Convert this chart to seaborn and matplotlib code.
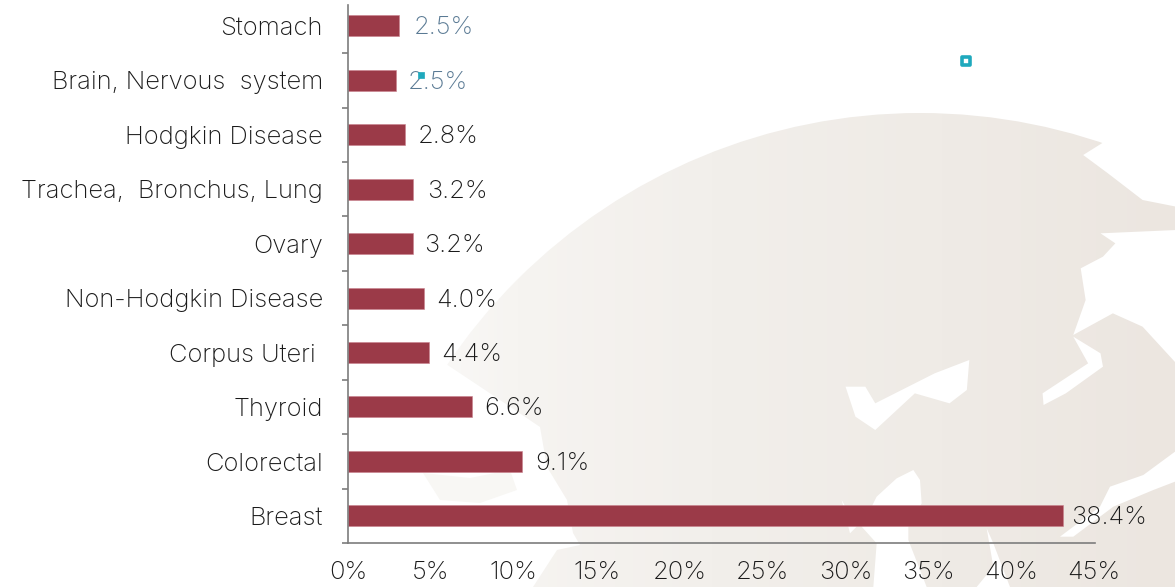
import numpy as np
import pandas as pd
import matplotlib
matplotlib.use("Agg")
import matplotlib.pyplot as plt
from matplotlib.patches import Circle, Polygon
from matplotlib.colors import LinearSegmentedColormap
import seaborn as sns

categories = ["Stomach", "Brain, Nervous  system", "Hodgkin Disease",
              "Trachea,  Bronchus, Lung", "Ovary", "Non-Hodgkin Disease",
              "Corpus Uteri ", "Thyroid", "Colorectal", "Breast"]
bar_values = [3.08, 2.90, 3.44, 3.92, 3.89, 4.58, 4.89, 7.48, 10.49, 43.1]
value_labels = ["2.5%", "2.5%", "2.8%", "3.2%", "3.2%", "4.0%", "4.4%", "6.6%", "9.1%", "38.4%"]
x_ticks = [0, 5, 10, 15, 20, 25, 30, 35, 40, 45]

W, H = 1175, 587
sns.set_theme(style="white")
plt.rcParams["font.family"] = ["Inter", "DejaVu Sans"]
FS = 18.4
WEIGHT = "light"
TEXT = "#1a1a1a"
fig = plt.figure(figsize=(W / 100, H / 100), dpi=100, facecolor="white")


def zoomed(pts):
    return [(400 + x / 2.02, 100 + y / 3) for x, y in pts]


def zoom_lr(pts):
    return [(780 + x / 3, 400 + y / 3) for x, y in pts]


# background globe, in pixel coordinates
bg = fig.add_axes([0, 0, 1, 1], zorder=0)
bg.axis("off")
cmap = LinearSegmentedColormap.from_list(
    "g", [(0, "#fbfaf9"), (0.15, "#f6f4f1"), (0.4, "#f2efeb"), (0.7, "#efebe6"), (1, "#ece6e0")])
grad = bg.imshow(np.linspace(0, 1, 256)[None, :], extent=(400, 1175, 587, 100),
                 cmap=cmap, aspect="auto", zorder=1)
grad.set_clip_path(Circle((920, 683), 570, transform=bg.transData))
bg.set_xlim(0, W)
bg.set_ylim(H, 0)
seas = zoomed([(1380, 165), (1430, 220), (1500, 300), (1568, 320), (1568, 100), (1450, 100)]), \
    zoomed([(1568, 390), (1415, 400), (1445, 430), (1420, 470), (1375, 505), (1385, 600),
            (1360, 705), (1440, 640), (1500, 680), (1568, 790)]), \
    zoomed([(1360, 710), (1415, 760), (1420, 800), (1345, 880), (1300, 915), (1298, 880), (1390, 790)]), \
    zoomed([(900, 860), (940, 860), (960, 910), (1080, 820), (1150, 780), (1145, 870),
            (1110, 910), (1040, 880), (960, 990), (920, 950)]), \
    zoom_lr([(1185, 155), (1090, 225), (990, 260), (960, 320), (840, 410), (880, 410),
             (1000, 320), (1120, 270), (1185, 245)]), \
    zoom_lr([(400, 210), (420, 240), (425, 310), (385, 380), (385, 420), (440, 561),
             (280, 561), (290, 430), (245, 380), (290, 290), (350, 235)]), \
    zoom_lr([(185, 300), (230, 380), (210, 400)]), \
    zoom_lr([(620, 385), (640, 430), (690, 561), (590, 561), (640, 500)]), \
    [(440, 360), (500, 400), (540, 427), (547, 467), (567, 500), (573, 533), (580, 545),
     (557, 550), (533, 587), (400, 587), (400, 360)]
for s in seas:
    bg.add_patch(Polygon(s, closed=True, fc="white", ec="none", zorder=2))
bg.add_patch(Polygon([(423, 473), (470, 478), (510, 470), (517, 490), (480, 503), (440, 500)],
                     closed=True, fc="#f8f7f4", ec="none", zorder=3))

# main chart: axes box spans the spines in the reference
left, right, top, bottom = 348, 1095, 5, 543
ax = fig.add_axes([left / W, 1 - bottom / H, (right - left) / W, (bottom - top) / H], zorder=2)
ax.patch.set_alpha(0)
df = pd.DataFrame({"category": categories, "value": bar_values})
sns.barplot(data=df, y="category", x="value", order=categories, orient="h", color="#9b3a48",
            saturation=1, width=0.385, edgecolor="#c9808c", linewidth=0.4, ax=ax)
ax.set_xlim(0, 45.05)
ax.set_ylim(9.5, -0.385)
ax.set_xlabel("")
ax.set_ylabel("")
sns.despine(ax=ax)
for side in ("left", "bottom"):
    ax.spines[side].set_color("#7d7d7d")
    ax.spines[side].set_linewidth(1.2)

ax.set_xticks(x_ticks)
ax.set_xticklabels([f"{t}%" for t in x_ticks], fontsize=FS, fontweight=WEIGHT, color=TEXT)
ax.tick_params(axis="x", length=0, pad=13)
first = ax.xaxis.get_major_ticks()[0]
first.tick1line.set_markersize(5)
first.tick1line.set_markeredgecolor("#7d7d7d")
first.tick1line.set_markeredgewidth(1.2)

ax.set_yticks(range(len(categories)))
ax.set_yticklabels(categories, fontsize=FS, fontweight=WEIGHT, color=TEXT)
ax.tick_params(axis="y", which="major", length=0, pad=18)
ax.set_yticks(np.arange(0.5, 10, 1), minor=True)
ax.tick_params(axis="y", which="minor", left=True, length=4.5, width=1.2, color="#7d7d7d")

# value labels
label_gap_px = [15, 12, 13, 14, 12, 12, 12, 12, 13, 8]
label_colors = ["#5a7a94", "#5a7a94"] + [TEXT] * 8
for i, (v, t) in enumerate(zip(bar_values, value_labels)):
    ax.annotate(t, (v, i), xytext=(label_gap_px[i] * 0.72, -1.4), textcoords="offset points",
                va="center", ha="left", fontsize=FS, fontweight=WEIGHT,
                color=label_colors[i], zorder=5)

# stray teal markers
top_ax = fig.add_axes([0, 0, 1, 1], zorder=3)
top_ax.set_xlim(0, W)
top_ax.set_ylim(H, 0)
top_ax.axis("off")
top_ax.scatter([966, 421], [61, 75], marker="s", s=[26, 24], facecolor=["white", "#1fa9bd"],
               edgecolor="#1fa9bd", linewidth=[2.6, 0.5])

fig.savefig("out.png", dpi=100, facecolor="white")
